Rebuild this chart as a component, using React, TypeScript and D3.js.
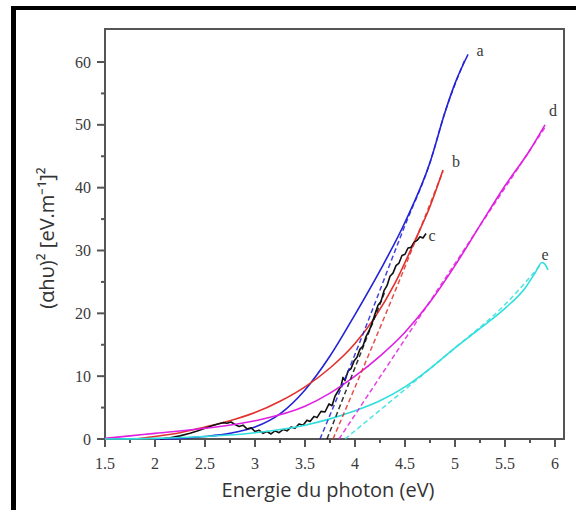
import * as d3 from 'd3'
import { FC } from 'react'

const WIDTH = 576
const HEIGHT = 510
const FRAME = { left: 105, top: 29, right: 564, bottom: 439 }
const X_DOMAIN = [1.5, 6]
const Y_DOMAIN = [0, 60]

const X_TICKS = [1.5, 2, 2.5, 3, 3.5, 4, 4.5, 5, 5.5, 6]
const X_MINOR = [1.75, 2.25, 2.75, 3.25, 3.75, 4.25, 4.75, 5.25, 5.75]
const Y_TICKS = [0, 10, 20, 30, 40, 50, 60]
const Y_MINOR = [5, 15, 25, 35, 45, 55]

// solid curves, [energy eV, (alpha h nu)^2]
const curveA: [number, number][] = [
  [2.0, 0], [2.25, 0.1], [2.5, 0.4], [2.75, 0.9], [3.0, 1.9], [3.25, 4.0],
  [3.5, 7.8], [3.75, 13.2], [4.0, 19.8], [4.25, 26.8], [4.5, 34.5], [4.75, 44],
  [4.9, 52], [5.0, 56.6], [5.13, 61.2],
]
const curveB: [number, number][] = [
  [1.8, 0], [2.0, 0.4], [2.25, 1.0], [2.5, 1.9], [2.75, 2.9], [3.0, 4.2],
  [3.25, 6], [3.5, 8.3], [3.75, 11.3], [4.0, 15.2], [4.2, 19.4], [4.4, 24.8],
  [4.6, 31.6], [4.75, 37], [4.88, 42.8],
]
const curveC: [number, number][] = [
  [2.05, 0], [2.15, 0.2], [2.25, 0.5], [2.35, 0.9], [2.43, 1.3], [2.5, 1.7],
  [2.57, 2.1], [2.63, 2.4], [2.68, 2.6], [2.72, 2.5], [2.76, 2.7], [2.8, 2.3],
  [2.84, 2.0], [2.88, 2.2], [2.92, 1.6], [2.96, 1.8], [3.0, 1.2], [3.04, 1.4],
  [3.08, 0.9], [3.12, 1.2], [3.16, 0.8], [3.2, 1.3], [3.24, 1.0], [3.28, 1.5],
  [3.32, 1.3], [3.36, 1.9], [3.4, 1.7], [3.44, 2.4], [3.48, 2.2], [3.52, 3.0],
  [3.55, 2.8], [3.59, 3.6], [3.62, 3.4], [3.66, 4.4], [3.7, 4.3], [3.74, 5.6],
  [3.77, 5.3], [3.8, 6.8], [3.83, 7.6], [3.86, 8.4], [3.88, 9.8], [3.9, 9.3],
  [3.93, 10.8], [3.96, 11.2], [3.99, 12.4], [4.02, 13.0], [4.05, 14.3],
  [4.08, 14.8], [4.11, 16.3], [4.14, 17.2], [4.17, 18.4], [4.2, 19.9],
  [4.23, 21.3], [4.26, 21.9], [4.29, 23.6], [4.32, 24.4], [4.35, 25.9],
  [4.38, 26.4], [4.41, 27.6], [4.44, 28.0], [4.47, 29.2], [4.5, 29.4],
  [4.53, 30.4], [4.56, 30.5], [4.59, 31.3], [4.62, 31.6], [4.65, 32.2],
  [4.68, 32.0], [4.71, 32.7],
]
const curveD: [number, number][] = [
  [1.5, 0.1], [1.75, 0.5], [2.0, 0.9], [2.5, 1.7], [3.0, 2.9], [3.5, 5.2],
  [3.75, 7.3], [4.0, 10.0], [4.25, 13.2], [4.5, 17], [4.75, 21.8], [5.0, 27.6],
  [5.25, 34], [5.5, 40.3], [5.75, 46], [5.9, 50],
]
const curveE: [number, number][] = [
  [1.5, 0], [2.0, 0.1], [2.5, 0.4], [3.0, 1.0], [3.5, 2.2], [3.75, 3.2],
  [4.0, 4.5], [4.25, 6.1], [4.5, 8.3], [4.75, 11.2], [5.0, 14.5], [5.25, 17.6],
  [5.5, 20.8], [5.7, 24], [5.8, 26.4], [5.87, 28.1], [5.9, 27.8], [5.93, 26.9],
]

// dashed linear fits
const fitA: [number, number][] = [[3.65, 0], [4.0, 13.5], [4.5, 34], [4.75, 44], [4.9, 52], [5.1, 60.4]]
const fitB: [number, number][] = [[3.78, 0], [4.4, 23.5], [4.88, 42.6]]
const fitC: [number, number][] = [[3.72, 0], [4.3, 23.5]]
const fitD: [number, number][] = [[3.84, 0], [5.9, 49.6]]
const fitE: [number, number][] = [[3.9, 0], [4.6, 9.2], [5.0, 14.5], [5.5, 21.4], [5.86, 27.8]]

const SERIES = [
  { key: 'a', color: '#2222d8', data: curveA, fit: fitA, smooth: true },
  { key: 'b', color: '#e2302c', data: curveB, fit: fitB, smooth: true },
  { key: 'c', color: '#111111', data: curveC, fit: fitC, smooth: false },
  { key: 'd', color: '#e020e0', data: curveD, fit: fitD, smooth: true },
  { key: 'e', color: '#30dede', data: curveE, fit: fitE, smooth: true },
]

// curve labels: [energy, value]
const LABELS: { key: string; at: [number, number] }[] = [
  { key: 'a', at: [5.25, 61.8] },
  { key: 'b', at: [5.01, 44.2] },
  { key: 'c', at: [4.77, 32.4] },
  { key: 'd', at: [5.98, 52.3] },
  { key: 'e', at: [5.9, 29.4] },
]

const AXIS_COLOR = '#555'
const TEXT_COLOR = '#3a3a3a'

const App: FC = () => {
  const xScale = d3.scaleLinear().domain(X_DOMAIN).range([105, 555])
  const yScale = d3.scaleLinear().domain(Y_DOMAIN).range([439, 62])

  const smoothLine = d3
    .line<[number, number]>()
    .x((d) => xScale(d[0]))
    .y((d) => yScale(d[1]))
    .curve(d3.curveMonotoneX)
  const rawLine = d3
    .line<[number, number]>()
    .x((d) => xScale(d[0]))
    .y((d) => yScale(d[1]))

  return (
    <svg
      width={ WIDTH }
      height={ HEIGHT }
      style={{ position: 'absolute', left: 0, top: 0, background: '#fff' }}
    >
      <rect x={ 0 } y={ 0 } width={ WIDTH } height={ HEIGHT } fill='#fff' />
      {/* black outer border */}
      <rect x={ 11 } y={ 6 } width={ 5 } height={ HEIGHT - 6 } fill='#000' />
      <rect x={ 11 } y={ 6 } width={ WIDTH - 11 } height={ 4 } fill='#000' />

      {/* frame */}
      <rect
        x={ FRAME.left }
        y={ FRAME.top }
        width={ FRAME.right - FRAME.left }
        height={ FRAME.bottom - FRAME.top }
        fill='none'
        stroke={ AXIS_COLOR }
        strokeWidth={ 2 }
      />

      {/* x ticks */}
      { X_TICKS.map((t) => (
        <g key={ 'x' + t }>
          <line x1={ xScale(t) } x2={ xScale(t) } y1={ FRAME.bottom } y2={ FRAME.bottom + 8 } stroke={ AXIS_COLOR } strokeWidth={ 2 } />
          <text x={ xScale(t) } y={ 469 } textAnchor='middle' fontFamily='Liberation Serif, serif' fontSize={ 16 } fill={ TEXT_COLOR }>
            { t }
          </text>
        </g>
      )) }
      { X_MINOR.map((t) => (
        <line key={ 'xm' + t } x1={ xScale(t) } x2={ xScale(t) } y1={ FRAME.bottom } y2={ FRAME.bottom + 4 } stroke={ AXIS_COLOR } strokeWidth={ 2 } />
      )) }

      {/* y ticks */}
      { Y_TICKS.map((t) => (
        <g key={ 'y' + t }>
          <line x1={ FRAME.left - 8 } x2={ FRAME.left } y1={ yScale(t) } y2={ yScale(t) } stroke={ AXIS_COLOR } strokeWidth={ 2 } />
          <text x={ 91 } y={ yScale(t) } textAnchor='end' dominantBaseline='central' fontFamily='Liberation Serif, serif' fontSize={ 16 } fill={ TEXT_COLOR }>
            { t }
          </text>
        </g>
      )) }
      { Y_MINOR.map((t) => (
        <line key={ 'ym' + t } x1={ FRAME.left - 4 } x2={ FRAME.left } y1={ yScale(t) } y2={ yScale(t) } stroke={ AXIS_COLOR } strokeWidth={ 2 } />
      )) }

      {/* solid curves */}
      { SERIES.map((s) => (
        <path
          key={ 'c' + s.key }
          d={ (s.smooth ? smoothLine(s.data) : rawLine(s.data)) as string }
          fill='none'
          stroke={ s.color }
          strokeWidth={ 1.6 }
          strokeLinejoin='round'
        />
      )) }

      {/* dashed fits */}
      { SERIES.map((s) => (
        <path
          key={ 'f' + s.key }
          d={ smoothLine(s.fit) as string }
          fill='none'
          stroke={ s.color }
          strokeWidth={ 1.5 }
          strokeDasharray='5,3'
          opacity={ 0.85 }
        />
      )) }

      {/* curve labels */}
      { LABELS.map((l) => (
        <text
          key={ 'l' + l.key }
          x={ xScale(l.at[0]) }
          y={ yScale(l.at[1]) }
          textAnchor='middle'
          dominantBaseline='central'
          fontFamily='Liberation Serif, serif'
          fontSize={ 16 }
          fill={ TEXT_COLOR }
        >
          { l.key }
        </text>
      )) }

      {/* axis titles */}
      <text x={ 328 } y={ 497 } textAnchor='middle' fontFamily='Open Sans, sans-serif' fontSize={ 20 } fill='#333'>
        Energie du photon (eV)
      </text>
      <text
        transform='translate(54,238) rotate(-90)'
        textAnchor='middle'
        fontFamily='Open Sans, sans-serif'
        fontSize={ 20 }
        fill='#333'
      >
        (αhυ)² [eV.m⁻¹]²
      </text>
    </svg>
  )
}

export default App
